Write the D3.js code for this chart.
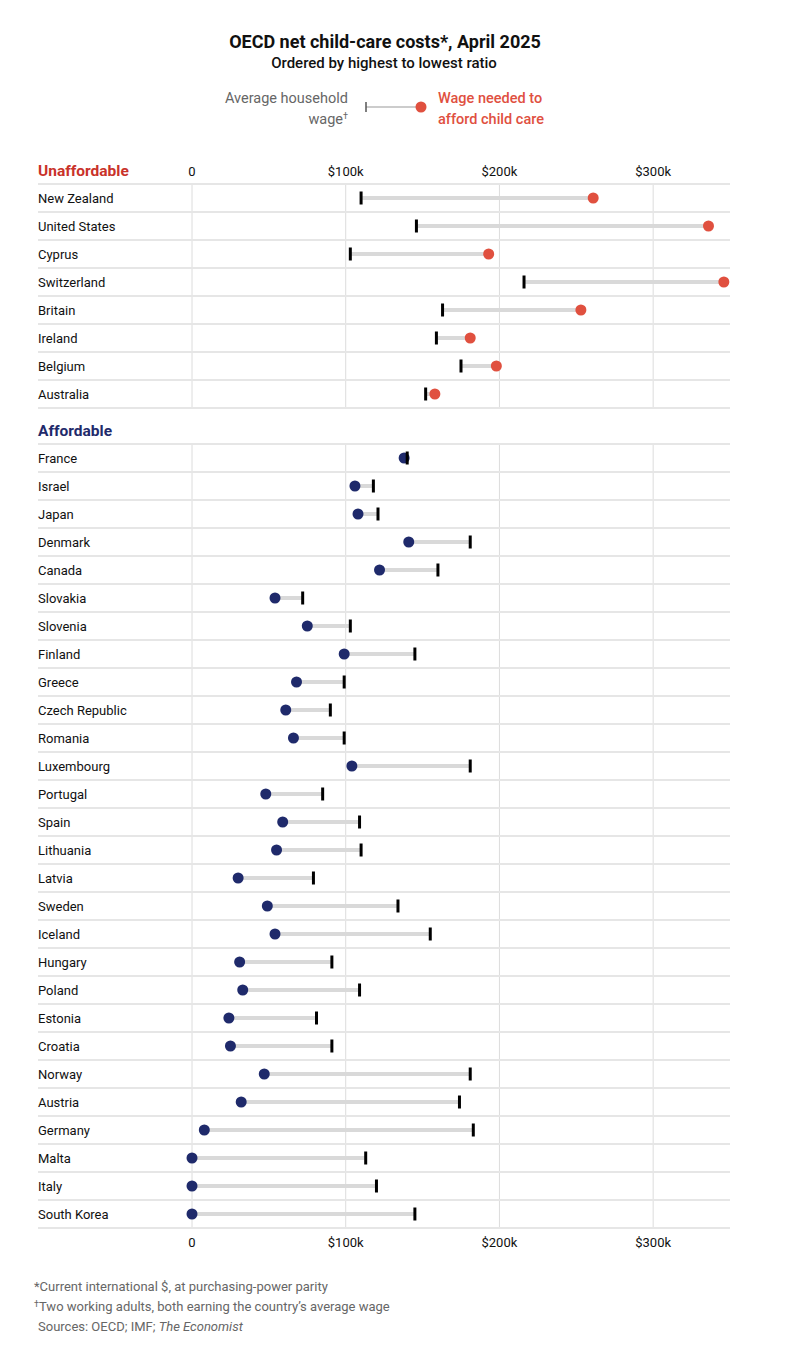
<!DOCTYPE html>
<html>
<head>
<meta charset="utf-8">
<script src="https://cdn.jsdelivr.net/npm/d3@7"></script>
<style>
  body { margin: 0; background: #fff; font-family: Roboto, "Noto Sans", sans-serif; }
  svg text { font-family: Roboto, "Noto Sans", sans-serif; }
</style>
</head>
<body>
<div id="chart"></div>
<script>
// Unaffordable group (values in $k)
const unaffordableCountries = ["New Zealand", "United States", "Cyprus", "Switzerland", "Britain", "Ireland", "Belgium", "Australia"];
const unaffordableWage = [110, 146, 103, 216, 163, 159, 175, 152];
const unaffordableNeeded = [261, 336, 193, 346, 253, 181, 198, 158];

// Affordable group (values in $k)
const affordableCountries = ["France", "Israel", "Japan", "Denmark", "Canada", "Slovakia", "Slovenia", "Finland", "Greece",
  "Czech Republic", "Romania", "Luxembourg", "Portugal", "Spain", "Lithuania", "Latvia", "Sweden", "Iceland", "Hungary",
  "Poland", "Estonia", "Croatia", "Norway", "Austria", "Germany", "Malta", "Italy", "South Korea"];
const affordableWage = [140, 118, 121, 181, 160, 72, 103, 145, 99, 90, 99, 181, 85, 109, 110, 79, 134, 155, 91,
  109, 81, 91, 181, 174, 183, 113, 120, 145];
const affordableNeeded = [138, 106, 108, 141, 122, 54, 75, 99, 68, 61, 66, 104, 48, 59, 55, 30, 49, 54, 31,
  33, 24, 25, 47, 32, 8, 0, 0, 0];

// Axis ticks
const tickValues = [0, 100, 200, 300];
const tickLabels = ["0", "$100k", "$200k", "$300k"];

const width = 790, height = 1346;
const red = "#e0503f", navy = "#1f2a6b", darkRed = "#c9322a";

const svg = d3.select("#chart").append("svg")
  .attr("width", width)
  .attr("height", height);

// x scale shared by both panels
const x = d3.scaleLinear().domain([0, 350]).range([192, 730]);
const rowLeft = 38, rowRight = 730;

// Title and subtitle
svg.append("text").attr("x", 385).attr("y", 48).attr("text-anchor", "middle")
  .style("font-size", "18px").style("font-weight", "700").style("fill", "#111")
  .text("OECD net child-care costs*, April 2025");
svg.append("text").attr("x", 384).attr("y", 68).attr("text-anchor", "middle")
  .style("font-size", "15px").style("font-weight", "500").style("fill", "#111")
  .text("Ordered by highest to lowest ratio");

// Legend
const lg = svg.append("g");
lg.append("text").attr("x", 348).attr("y", 103).attr("text-anchor", "end")
  .style("font-size", "14.5px").style("fill", "#666").text("Average household");
const wageLbl = lg.append("text").attr("x", 348).attr("y", 124).attr("text-anchor", "end")
  .style("font-size", "14.5px").style("fill", "#666");
wageLbl.append("tspan").text("wage");
wageLbl.append("tspan").attr("dy", -5).style("font-size", "9px").text("\u2020");
lg.append("line").attr("x1", 366).attr("x2", 420).attr("y1", 107).attr("y2", 107)
  .style("stroke", "#bbb").style("stroke-width", 1.5);
lg.append("line").attr("x1", 366).attr("x2", 366).attr("y1", 102).attr("y2", 112)
  .style("stroke", "#555").style("stroke-width", 1.5);
lg.append("circle").attr("cx", 421).attr("cy", 107).attr("r", 5.5).style("fill", red);
lg.append("text").attr("x", 438).attr("y", 103)
  .style("font-size", "14.5px").style("font-weight", "500").style("fill", red).text("Wage needed to");
lg.append("text").attr("x", 438).attr("y", 124)
  .style("font-size", "14.5px").style("font-weight", "500").style("fill", red).text("afford child care");

// Draw one panel of dumbbells
function drawPanel(countries, wage, needed, top, dotColor) {
  const y = d3.scaleBand().domain(countries).range([top, top + countries.length * 28]);
  const g = svg.append("g");

  // vertical gridlines
  g.selectAll(".grid").data(tickValues).enter().append("line")
    .attr("x1", d => x(d)).attr("x2", d => x(d))
    .attr("y1", top).attr("y2", top + countries.length * 28)
    .style("stroke", "#dcdcdc").style("stroke-width", 1);

  // row separators
  const seps = [top].concat(countries.map(c => y(c) + y.bandwidth()));
  g.selectAll(".sep").data(seps).enter().append("line")
    .attr("x1", rowLeft).attr("x2", rowRight)
    .attr("y1", d => d).attr("y2", d => d)
    .style("stroke", "#e6e6e6").style("stroke-width", 2);

  // country labels
  g.selectAll(".lbl").data(countries).enter().append("text")
    .attr("x", rowLeft).attr("y", d => y(d) + y.bandwidth() / 2 + 5)
    .style("font-size", "13px").style("fill", "#111")
    .text(d => d);

  const rows = countries.map((c, i) => ({ c: c, w: wage[i], n: needed[i] }));

  // connecting bars
  g.selectAll(".bar").data(rows).enter().append("line")
    .attr("x1", d => x(d.w)).attr("x2", d => x(d.n))
    .attr("y1", d => y(d.c) + y.bandwidth() / 2).attr("y2", d => y(d.c) + y.bandwidth() / 2)
    .style("stroke", "#d9d9d9").style("stroke-width", 4);

  // needed-wage dots
  g.selectAll(".dot").data(rows).enter().append("circle")
    .attr("cx", d => x(d.n)).attr("cy", d => y(d.c) + y.bandwidth() / 2)
    .attr("r", 5.5).style("fill", dotColor);

  // average wage ticks
  g.selectAll(".tick").data(rows).enter().append("line")
    .attr("x1", d => x(d.w)).attr("x2", d => x(d.w))
    .attr("y1", d => y(d.c) + y.bandwidth() / 2 - 6.5)
    .attr("y2", d => y(d.c) + y.bandwidth() / 2 + 6.5)
    .style("stroke", "#000").style("stroke-width", 3);
}

// Section headers and top axis labels
svg.append("text").attr("x", rowLeft).attr("y", 176)
  .style("font-size", "15.5px").style("font-weight", "700").style("fill", darkRed).text("Unaffordable");
svg.selectAll(".topTick").data(tickValues).enter().append("text")
  .attr("x", d => x(d)).attr("y", 176).attr("text-anchor", "middle")
  .style("font-size", "13px").style("fill", "#111")
  .text((d, i) => tickLabels[i]);

drawPanel(unaffordableCountries, unaffordableWage, unaffordableNeeded, 184, red);

svg.append("text").attr("x", rowLeft).attr("y", 436)
  .style("font-size", "15.5px").style("font-weight", "700").style("fill", navy).text("Affordable");

drawPanel(affordableCountries, affordableWage, affordableNeeded, 444, navy);

// Bottom axis labels
svg.selectAll(".botTick").data(tickValues).enter().append("text")
  .attr("x", d => x(d)).attr("y", 1247).attr("text-anchor", "middle")
  .style("font-size", "13px").style("fill", "#111")
  .text((d, i) => tickLabels[i]);

// Footnotes
svg.append("text").attr("x", 34).attr("y", 1291)
  .style("font-size", "13px").style("fill", "#666")
  .text("*Current international $, at purchasing-power parity");
const fn2 = svg.append("text").attr("x", 34).attr("y", 1311)
  .style("font-size", "13px").style("fill", "#666");
fn2.append("tspan").attr("dy", -4).style("font-size", "9px").text("\u2020");
fn2.append("tspan").attr("dy", 4).text("Two working adults, both earning the country\u2019s average wage");
const fn3 = svg.append("text").attr("x", 38).attr("y", 1331)
  .style("font-size", "13px").style("fill", "#666");
fn3.append("tspan").text("Sources: OECD; IMF; ");
fn3.append("tspan").style("font-style", "italic").text("The Economist");
</script>
</body>
</html>
